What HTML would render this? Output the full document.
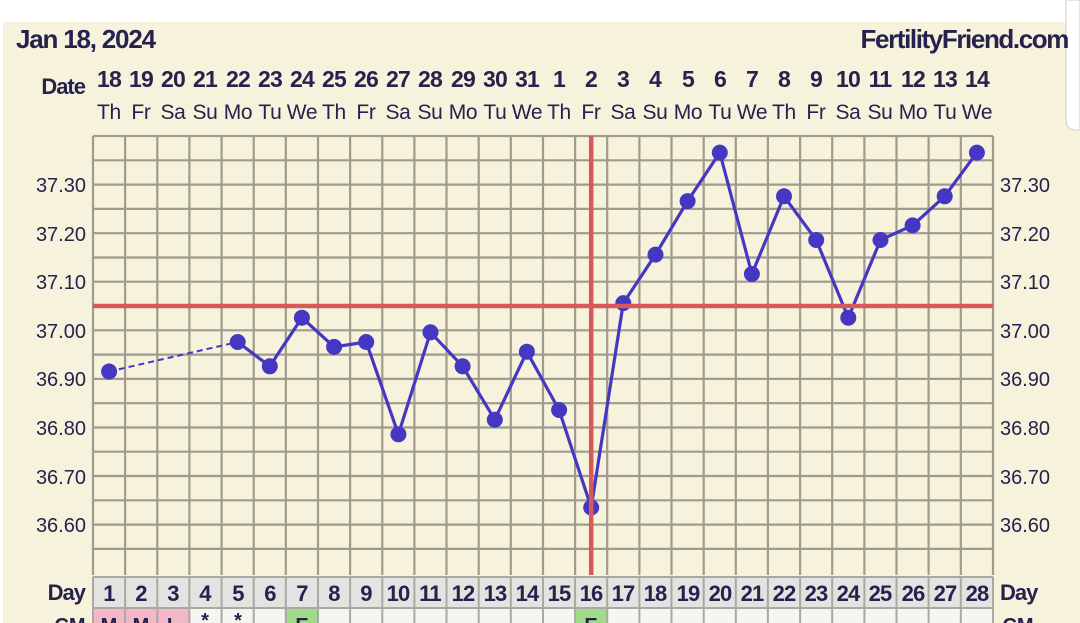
<!DOCTYPE html>
<html><head><meta charset="utf-8"><style>
html,body{margin:0;padding:0;background:#fff;width:1080px;height:623px;overflow:hidden}
svg{display:block}
text{font-family:"Liberation Sans",sans-serif;fill:#25224e}
.b{font-weight:bold}
</style></head><body>
<svg width="1080" height="623" viewBox="0 0 1080 623">
<rect x="0" y="0" width="1080" height="623" fill="#fff"/>
<rect x="3" y="22" width="1077" height="601" fill="#f7f2dc"/>
<path d="M1066 0 V120 Q1066 130 1076 130 H1080 V0 Z" fill="#fff" stroke="#ccc" stroke-width="1"/>
<text x="16" y="48" class="b" font-size="26" letter-spacing="-1.2">Jan 18, 2024</text>
<text x="1068" y="48" class="b" font-size="26" letter-spacing="-1.4" text-anchor="end">FertilityFriend.com</text>
<text x="85" y="94" class="b" font-size="22" text-anchor="end" letter-spacing="-1">Date</text>
<g class="b" font-size="23" text-anchor="middle" letter-spacing="-0.8">
<text x="109" y="87" class="b">18</text><text x="141" y="87" class="b">19</text><text x="173" y="87" class="b">20</text><text x="205" y="87" class="b">21</text><text x="238" y="87" class="b">22</text><text x="270" y="87" class="b">23</text><text x="302" y="87" class="b">24</text><text x="334" y="87" class="b">25</text><text x="366" y="87" class="b">26</text><text x="398" y="87" class="b">27</text><text x="430" y="87" class="b">28</text><text x="463" y="87" class="b">29</text><text x="495" y="87" class="b">30</text><text x="527" y="87" class="b">31</text><text x="559" y="87" class="b">1</text><text x="591" y="87" class="b">2</text><text x="623" y="87" class="b">3</text><text x="655" y="87" class="b">4</text><text x="688" y="87" class="b">5</text><text x="720" y="87" class="b">6</text><text x="752" y="87" class="b">7</text><text x="784" y="87" class="b">8</text><text x="816" y="87" class="b">9</text><text x="848" y="87" class="b">10</text><text x="880" y="87" class="b">11</text><text x="913" y="87" class="b">12</text><text x="945" y="87" class="b">13</text><text x="977" y="87" class="b">14</text>
</g>
<g font-size="21" text-anchor="middle" letter-spacing="-0.3">
<text x="109" y="119">Th</text><text x="141" y="119">Fr</text><text x="173" y="119">Sa</text><text x="205" y="119">Su</text><text x="238" y="119">Mo</text><text x="270" y="119">Tu</text><text x="302" y="119">We</text><text x="334" y="119">Th</text><text x="366" y="119">Fr</text><text x="398" y="119">Sa</text><text x="430" y="119">Su</text><text x="463" y="119">Mo</text><text x="495" y="119">Tu</text><text x="527" y="119">We</text><text x="559" y="119">Th</text><text x="591" y="119">Fr</text><text x="623" y="119">Sa</text><text x="655" y="119">Su</text><text x="688" y="119">Mo</text><text x="720" y="119">Tu</text><text x="752" y="119">We</text><text x="784" y="119">Th</text><text x="816" y="119">Fr</text><text x="848" y="119">Sa</text><text x="880" y="119">Su</text><text x="913" y="119">Mo</text><text x="945" y="119">Tu</text><text x="977" y="119">We</text>
</g>
<g stroke="#9e9c8e" stroke-width="2.2">
<path d="M93 136V575M125.1 136V575M157.3 136V575M189.4 136V575M221.6 136V575M253.7 136V575M285.8 136V575M318 136V575M350.1 136V575M382.3 136V575M414.4 136V575M446.5 136V575M478.7 136V575M510.8 136V575M543 136V575M575.1 136V575M607.2 136V575M639.4 136V575M671.5 136V575M703.7 136V575M735.8 136V575M767.9 136V575M800.1 136V575M832.2 136V575M864.4 136V575M896.5 136V575M928.6 136V575M960.8 136V575M993 136V575"/>
<path d="M93 136H993M93 160.3H993M93 184.6H993M93 208.9H993M93 233.2H993M93 257.5H993M93 281.7H993M93 306H993M93 330.3H993M93 354.6H993M93 378.9H993M93 403.2H993M93 427.5H993M93 451.7H993M93 476H993M93 500.3H993M93 524.6H993M93 548.9H993"/>
</g>
<g font-size="20" text-anchor="end">
<text x="86" y="192">37.30</text><text x="86" y="241">37.20</text><text x="86" y="289">37.10</text><text x="86" y="338">37.00</text><text x="86" y="386">36.90</text><text x="86" y="435">36.80</text><text x="86" y="484">36.70</text><text x="86" y="532">36.60</text>
</g>
<g font-size="20">
<text x="1000" y="192">37.30</text><text x="1000" y="241">37.20</text><text x="1000" y="289">37.10</text><text x="1000" y="338">37.00</text><text x="1000" y="386">36.90</text><text x="1000" y="435">36.80</text><text x="1000" y="484">36.70</text><text x="1000" y="532">36.60</text>
</g>
<g stroke="#4537c2" stroke-width="3.2" fill="none" stroke-linejoin="round">
<path d="M109.1 371.5 L237.7 342" stroke-dasharray="6 4" stroke-width="2"/>
<path d="M237.7 342 L269.8 366.3 L301.9 317.7 L334.1 346.9 L366.2 342 L398.4 434.3 L430.5 332.3 L462.6 366.3 L494.8 419.7 L526.9 351.7 L559.1 410 L591.2 507.5 L623.3 303.1 L655.5 254.6 L687.6 201.1 L719.8 152.6 L751.9 274 L784 196.3 L816.2 240 L848.3 317.7 L880.5 240 L912.6 225.4 L944.7 196.3 L976.9 152.6"/>
</g>
<g fill="#4537c2">
<circle cx="109.1" cy="371.5" r="8"/><circle cx="237.7" cy="342" r="8"/><circle cx="269.8" cy="366.3" r="8"/><circle cx="301.9" cy="317.7" r="8"/><circle cx="334.1" cy="346.9" r="8"/><circle cx="366.2" cy="342" r="8"/><circle cx="398.4" cy="434.3" r="8"/><circle cx="430.5" cy="332.3" r="8"/><circle cx="462.6" cy="366.3" r="8"/><circle cx="494.8" cy="419.7" r="8"/><circle cx="526.9" cy="351.7" r="8"/><circle cx="559.1" cy="410" r="8"/><circle cx="591.2" cy="507.5" r="8"/><circle cx="623.3" cy="303.1" r="8"/><circle cx="655.5" cy="254.6" r="8"/><circle cx="687.6" cy="201.1" r="8"/><circle cx="719.8" cy="152.6" r="8"/><circle cx="751.9" cy="274" r="8"/><circle cx="784" cy="196.3" r="8"/><circle cx="816.2" cy="240" r="8"/><circle cx="848.3" cy="317.7" r="8"/><circle cx="880.5" cy="240" r="8"/><circle cx="912.6" cy="225.4" r="8"/><circle cx="944.7" cy="196.3" r="8"/><circle cx="976.9" cy="152.6" r="8"/>
</g>
<g stroke="#d65a5a" stroke-width="4.5">
<path d="M93 306H993"/>
<path d="M591.2 136V575"/>
</g>
<rect x="93" y="577" width="900" height="31" fill="#e4e3e1"/>
<rect x="93" y="609" width="900" height="14" fill="#f6f5f1"/>
<rect x="93" y="609" width="96.4" height="14" fill="#f3b8c8"/>
<rect x="285.8" y="609" width="32.2" height="14" fill="#9fdc8a"/>
<rect x="575.1" y="609" width="32.1" height="14" fill="#9fdc8a"/>
<g stroke="#aaa8a0" stroke-width="2">
<path d="M93 577H993M93 608H993"/>
<path d="M93 577V623M125.1 577V623M157.3 577V623M189.4 577V623M221.6 577V623M253.7 577V623M285.8 577V623M318 577V623M350.1 577V623M382.3 577V623M414.4 577V623M446.5 577V623M478.7 577V623M510.8 577V623M543 577V623M575.1 577V623M607.2 577V623M639.4 577V623M671.5 577V623M703.7 577V623M735.8 577V623M767.9 577V623M800.1 577V623M832.2 577V623M864.4 577V623M896.5 577V623M928.6 577V623M960.8 577V623M993 577V623"/>
</g>
<text x="85" y="600" class="b" font-size="22" text-anchor="end" letter-spacing="-1">Day</text>
<text x="1000" y="600" class="b" font-size="22" letter-spacing="-1">Day</text>
<g class="b" font-size="22" text-anchor="middle" letter-spacing="-0.8">
<text x="109" y="601" class="b">1</text><text x="141" y="601" class="b">2</text><text x="173" y="601" class="b">3</text><text x="205" y="601" class="b">4</text><text x="238" y="601" class="b">5</text><text x="270" y="601" class="b">6</text><text x="302" y="601" class="b">7</text><text x="334" y="601" class="b">8</text><text x="366" y="601" class="b">9</text><text x="398" y="601" class="b">10</text><text x="430" y="601" class="b">11</text><text x="463" y="601" class="b">12</text><text x="495" y="601" class="b">13</text><text x="527" y="601" class="b">14</text><text x="559" y="601" class="b">15</text><text x="591" y="601" class="b">16</text><text x="623" y="601" class="b">17</text><text x="655" y="601" class="b">18</text><text x="688" y="601" class="b">19</text><text x="720" y="601" class="b">20</text><text x="752" y="601" class="b">21</text><text x="784" y="601" class="b">22</text><text x="816" y="601" class="b">23</text><text x="848" y="601" class="b">24</text><text x="880" y="601" class="b">25</text><text x="913" y="601" class="b">26</text><text x="945" y="601" class="b">27</text><text x="977" y="601" class="b">28</text>
</g>
<g class="b" font-size="20" text-anchor="middle">
<text x="70" y="632" class="b">CM</text><text x="1018" y="632" class="b">CM</text>
<text x="109" y="632" class="b">M</text><text x="141" y="632" class="b">M</text><text x="173" y="632" class="b">L</text><text x="205" y="627" class="b">*</text><text x="238" y="627" class="b">*</text><text x="302" y="632" class="b" font-family="Liberation Serif">E</text><text x="591" y="632" class="b" font-family="Liberation Serif">E</text>
</g>
</svg>
</body></html>
